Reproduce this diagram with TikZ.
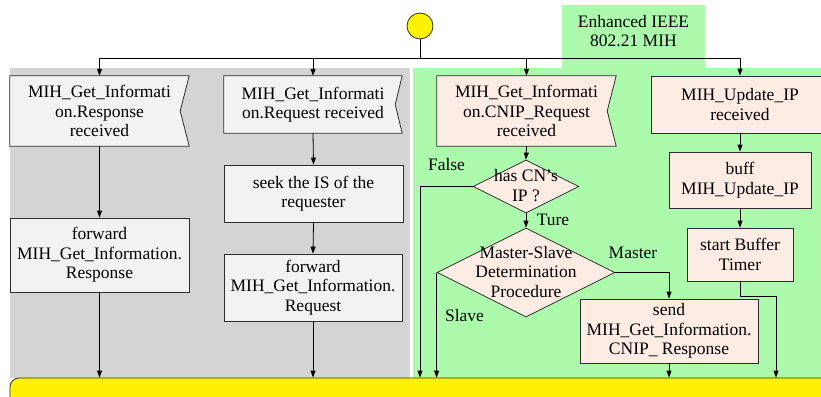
\documentclass[tikz,border=0pt]{standalone}
\usepackage{fontspec}
\setmainfont{Liberation Serif}
\usetikzlibrary{shapes.geometric,arrows.meta}
\pgfdeclarelayer{bg}
\pgfdeclarelayer{mid}
\pgfsetlayers{bg,mid,main}
\definecolor{grayreg}{RGB}{212,212,212}
\definecolor{greenreg}{RGB}{172,250,172}
\definecolor{boxgray}{RGB}{242,242,242}
\definecolor{peach}{RGB}{252,236,227}
\definecolor{edge}{RGB}{45,45,45}
\begin{document}
\begin{tikzpicture}[x=1pt,y=-1pt,
  font=\fontsize{17.5}{19.5}\selectfont,
  box/.style={draw=edge, line width=0.8pt, rectangle, inner sep=0pt, align=center},
  flagbox/.style={rectangle, inner sep=0pt, align=center},
  dia/.style={diamond, draw=edge, line width=0.8pt, inner sep=0pt, fill=peach},
  arr/.style={draw=black, line width=0.8pt, -{Triangle[length=7pt,width=5pt]}},
  ln/.style={draw=black, line width=0.8pt},
  flagline/.style={draw=edge, line width=0.8pt},
  lbl/.style={inner sep=0pt}]
\useasboundingbox (0,0) rectangle (821,396);

% regions
\begin{pgfonlayer}{bg}
\fill[grayreg] (10,68) rectangle (410,378);
\fill[greenreg] (413,68) rectangle (821,378);
\fill[greenreg] (562,5) rectangle (705,69);
\end{pgfonlayer}
\node[align=center, inner sep=0pt] (enh) at (633.5,31) {Enhanced IEEE\\802.21 MIH};

% start and end
\node[circle, draw=edge, line width=0.8pt, fill=yellow, minimum size=26pt, inner sep=0pt] (st) at (420,26) {};
\node[draw=edge, line width=0.8pt, fill=yellow, rounded corners=9pt, minimum width=830pt, minimum height=42pt, inner sep=0pt] (bar) at (425,399) {};

% left gray column
\node[flagbox, minimum width=179pt, minimum height=70pt] (a1) at (99.5,111) {MIH\_Get\_Informati\\on.Response\\received};
\node[box, fill=boxgray, minimum width=179pt, minimum height=74pt] (a2) at (99.5,255) {forward\\MIH\_Get\_Information.\\Response};

\node[flagbox, minimum width=178pt, minimum height=57pt] (b1) at (313,104.5) {MIH\_Get\_Informati\\on.Request received};
\node[box, fill=boxgray, minimum width=179pt, minimum height=57pt] (b2) at (313.5,193.5) {seek the IS of the\\requester};
\node[box, fill=boxgray, minimum width=178pt, minimum height=67pt] (b3) at (313,287.5) {forward\\MIH\_Get\_Information.\\Request};

% green column
\node[flagbox, minimum width=179pt, minimum height=70pt] (c1) at (526.5,111) {MIH\_Get\_Informati\\on.CNIP\_Request\\received};
\node[dia, minimum width=106pt, minimum height=53pt] (d1) at (526,186.5) {};
\node[align=center, inner sep=0pt] (d1t) at (526,185.5) {has CN’s\\IP ?};
\node[dia, minimum width=178pt, minimum height=89pt] (d2) at (526,272.5) {};
\node[align=center, inner sep=0pt] (d2t) at (526,272) {Master-Slave\\Determination\\Procedure};
\node[box, fill=peach, minimum width=178pt, minimum height=64pt] (sd) at (669,331) {send\\MIH\_Get\_Information.\\CNIP\_ Response};

\node[box, fill=peach, minimum width=178pt, minimum height=57pt] (u1) at (740,104.5) {MIH\_Update\_IP\\received};
\node[box, fill=peach, minimum width=142pt, minimum height=56pt] (u2) at (740,180) {buff\\MIH\_Update\_IP};
\node[box, fill=peach, minimum width=106pt, minimum height=53pt] (u3) at (740,254.5) {start Buffer\\Timer};

% flag outlines
\begin{pgfonlayer}{mid}
\draw[flagline, fill=boxgray] (a1.north west) -- (a1.north east) -- ([xshift=-9pt]a1.east) -- (a1.south east) -- (a1.south west) -- cycle;
\draw[flagline, fill=boxgray] (b1.north west) -- (b1.north east) -- ([xshift=-7pt]b1.east) -- (b1.south east) -- (b1.south west) -- cycle;
\draw[flagline, fill=peach] (c1.north west) -- (c1.north east) -- ([xshift=-9pt]c1.east) -- (c1.south east) -- (c1.south west) -- cycle;
\end{pgfonlayer}

% labels
\node[lbl] (lf) at (446.5,165) {False};
\node[lbl] (lt) at (553,220) {Ture};
\node[lbl] (lm) at (633,253) {Master};
\node[lbl] (ls) at (464.5,316) {Slave};

% top branching
\coordinate (j) at (420,58);
\draw[ln] (st.south) -- (j);
\draw[arr] (j) -| (a1.north);
\draw[arr] (j) -| (b1.north);
\draw[arr] (j) -| (c1.north);
\draw[arr] (j) -| (u1.north);

% gray connectors
\draw[arr] (a1.south) -- (a2.north);
\draw[arr] (a2.south) -- (a2.south |- bar.north);
\draw[arr] (b1.south) -- (b2.north);
\draw[arr] (b2.south) -- (b3.north);
\draw[arr] (b3.south) -- (b3.south |- bar.north);

% green connectors
\coordinate (fx) at (420,186.5);
\draw[arr] (c1.south) -- (d1.north);
\draw[arr] (d1.west) -- (fx) -- (fx |- bar.north);
\draw[arr] (d1.south) -- (d2.north);
\draw[arr] (d2.east) -| (sd.north);
\draw[arr] (d2.west) -- (d2.west |- bar.north);
\draw[arr] (sd.south) -- (sd.south |- bar.north);

\coordinate (tk) at (776,296);
\draw[arr] (u1.south) -- (u2.north);
\draw[arr] (u2.south) -- (u3.north);
\draw[arr] (u3.south) |- (tk) -- (tk |- bar.north);
\end{tikzpicture}
\end{document}
